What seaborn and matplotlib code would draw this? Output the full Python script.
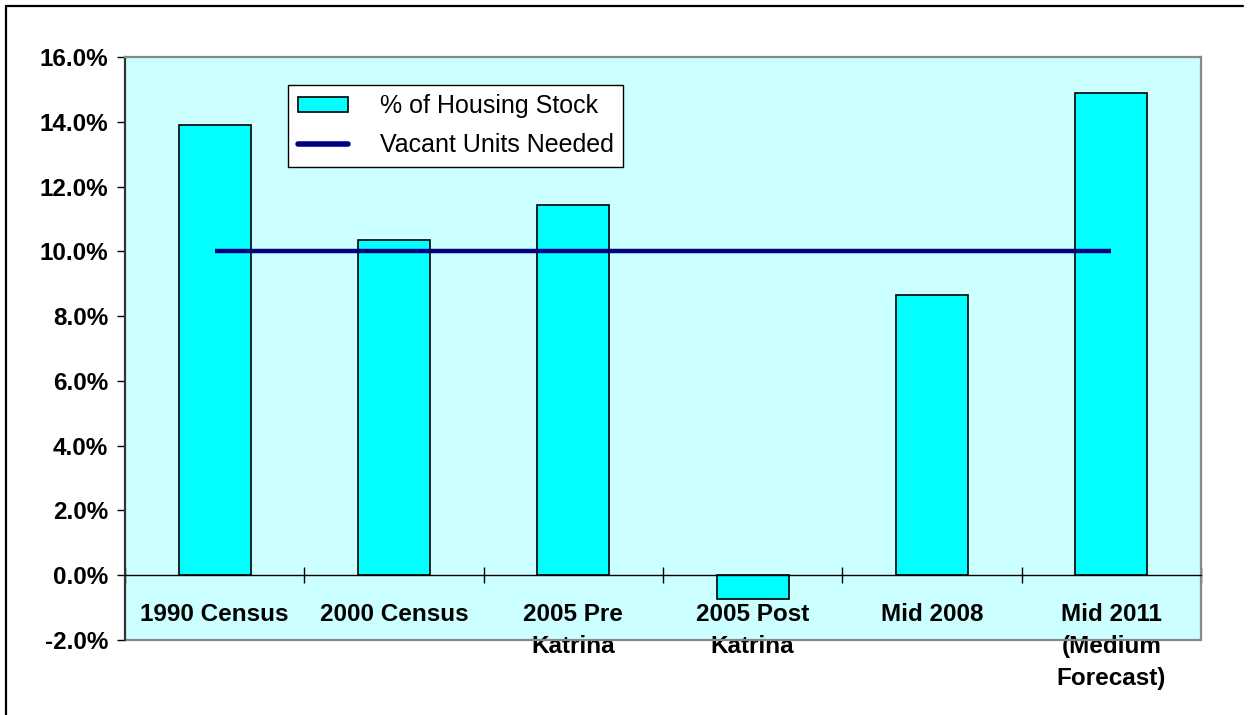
import matplotlib
matplotlib.use("Agg")
import pandas as pd
import seaborn as sns
import matplotlib.pyplot as plt
from matplotlib.patches import Patch
from matplotlib.lines import Line2D
from matplotlib.ticker import FuncFormatter, FixedLocator

# Housing vacancy data
categories = ["1990 Census", "2000 Census", "2005 Pre\nKatrina", "2005 Post\nKatrina",
              "Mid 2008", "Mid 2011\n(Medium\nForecast)"]
housing_stock_pct = [13.9, 10.35, 11.42, -0.72, 8.65, 14.88]
vacant_needed_pct = [10.0, 10.0, 10.0, 10.0, 10.0, 10.0]

df = pd.DataFrame({"Period": categories, "Pct": housing_stock_pct})

sns.set_theme(style="white")
plt.rcParams["font.family"] = ["Liberation Sans", "DejaVu Sans"]
plt.rcParams["text.color"] = "black"
plt.rcParams["xtick.color"] = "black"
plt.rcParams["ytick.color"] = "black"

fig = plt.figure(figsize=(12.49, 7.15), dpi=100)
ax = fig.add_axes([125 / 1249, 1 - 640 / 715, 1076 / 1249, 583 / 715])
ax.set_facecolor("#CCFFFF")

sns.barplot(data=df, x="Period", y="Pct", color="#00FFFF", saturation=1, width=0.4,
            edgecolor="black", linewidth=1.2, ax=ax)
ax.plot(range(len(categories)), vacant_needed_pct, color="#000080", lw=3.2,
        solid_capstyle="butt")

ax.set_ylim(-2, 16)
ax.set_xlim(-0.5, len(categories) - 0.5)
ax.set_yticks([-2, 0, 2, 4, 6, 8, 10, 12, 14, 16])
ax.yaxis.set_major_formatter(FuncFormatter(lambda v, p: f"{v:.1f}%"))
ax.set_xlabel("")
ax.set_ylabel("")

# x axis sits on the zero line
ax.spines["bottom"].set_position(("data", 0))
ax.spines["bottom"].set_color("black")
ax.spines["bottom"].set_linewidth(1.0)
ax.spines["left"].set_color("#333333")
ax.spines["left"].set_linewidth(1.6)
for s in ["top", "right"]:
    ax.spines[s].set_color("#888888")
    ax.spines[s].set_linewidth(1.6)
ax.axhline(-2, color="#888888", lw=1.6, clip_on=False, zorder=1)

ax.xaxis.set_minor_locator(FixedLocator([i - 0.5 for i in range(len(categories) + 1)]))
ax.tick_params(axis="x", which="major", length=0, pad=20, labelsize=17.5,
               labelcolor="black")
ax.tick_params(axis="x", which="minor", bottom=True, direction="inout", length=11,
               width=1, color="black")
ax.tick_params(axis="y", left=True, direction="out", length=6, width=1, color="black",
               pad=6, labelsize=17.5, labelcolor="black")
for lbl in ax.get_xticklabels():
    lbl.set_fontweight("bold")
    lbl.set_linespacing(1.5)
    lbl.set_verticalalignment("top")
for lbl in ax.get_yticklabels():
    lbl.set_fontweight("bold")

handles = [Patch(facecolor="#00FFFF", edgecolor="black", linewidth=1.2),
           Line2D([], [], color="#000080", lw=4)]
leg = ax.legend(handles, ["% of Housing Stock", "Vacant Units Needed"],
                loc="upper left", bbox_to_anchor=(0.1515, 0.952), borderaxespad=0,
                fontsize=18, frameon=True, fancybox=False, framealpha=1,
                edgecolor="black", handlelength=2.0, handleheight=0.5,
                handletextpad=1.28, labelspacing=0.6, borderpad=0.38)
leg.get_frame().set_linewidth(1.0)

# outer frame (left and top edges)
fig.add_artist(Line2D([6 / 1249, 6 / 1249], [0, 1 - 6 / 715], color="black", lw=1.6,
                      transform=fig.transFigure))
fig.add_artist(Line2D([6 / 1249, 1243 / 1249], [1 - 6 / 715, 1 - 6 / 715], color="black",
                      lw=1.6, transform=fig.transFigure))

fig.savefig("out.png", dpi=100, facecolor="white")
